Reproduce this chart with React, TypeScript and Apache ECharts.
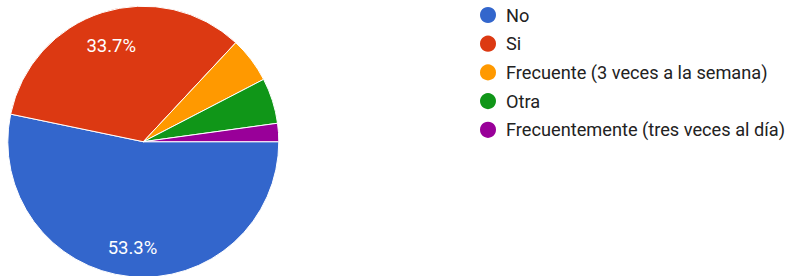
import React, { useEffect, useRef } from "react";
import * as echarts from "echarts";

const categories = [
  "No",
  "Si",
  "Frecuente (3 veces a la semana)",
  "Otra",
  "Frecuentemente (tres veces al día)",
];
const counts = [49, 31, 5, 5, 2];
const colors = ["#3366cc", "#dc3912", "#ff9900", "#109618", "#990099"];
const labelOffsets = [[0, 1], [0, 5], [0, 0], [0, 0], [0, 0]];

export default function App() {
  const ref = useRef<HTMLDivElement>(null);
  useEffect(() => {
    if (!ref.current) return;
    const chart = echarts.init(ref.current, undefined, { renderer: "svg" });
    const total = counts.reduce((a, b) => a + b, 0);
    const data = categories.map((name, i) => ({
      name,
      value: counts[i],
      itemStyle: { color: colors[i] },
    }));
    const center = [143.3, 141.7];
    const R = 135.5;
    chart.setOption({
      animation: false,
      legend: {
        orient: "vertical",
        left: 478,
        top: 5,
        padding: 0,
        icon: "circle",
        itemWidth: 18,
        itemHeight: 18,
        itemGap: 8.7,
        selectedMode: false,
        data: categories,
        textStyle: {
          fontFamily: "Roboto",
          fontSize: 18.2,
          lineHeight: 18,
          color: "#222222",
          padding: [0, 0, 0, 4],
        },
      },
      series: [
        {
          type: "pie",
          center,
          radius: [0, R],
          startAngle: 0,
          clockwise: true,
          data,
          label: { show: false },
          labelLine: { show: false },
          emphasis: { disabled: true },
          itemStyle: { borderColor: "#ffffff", borderWidth: 1 },
        },
        {
          type: "pie",
          center,
          radius: [0, R * 1.52],
          startAngle: 0,
          clockwise: true,
          silent: true,
          legendHoverLink: false,
          data: categories.map((name, i) => ({
            name: name + " ",
            value: counts[i],
            itemStyle: { color: "rgba(0,0,0,0)" },
            label: { offset: labelOffsets[i] },
          })),
          itemStyle: { borderWidth: 0 },
          emphasis: { disabled: true },
          labelLine: { show: false },
          label: {
            show: true,
            position: "inside",
            color: "#ffffff",
            fontFamily: "Roboto",
            fontSize: 18.5,
            formatter: (p: any) => {
              const pct = (p.value / total) * 100;
              return pct > 10 ? pct.toFixed(1) + "%" : "";
            },
          },
        },
      ],
    });
    return () => chart.dispose();
  }, []);
  return (
    <div
      ref={ref}
      style={{ position: "fixed", left: 0, top: 0, width: 789, height: 276, background: "#fff" }}
    />
  );
}
